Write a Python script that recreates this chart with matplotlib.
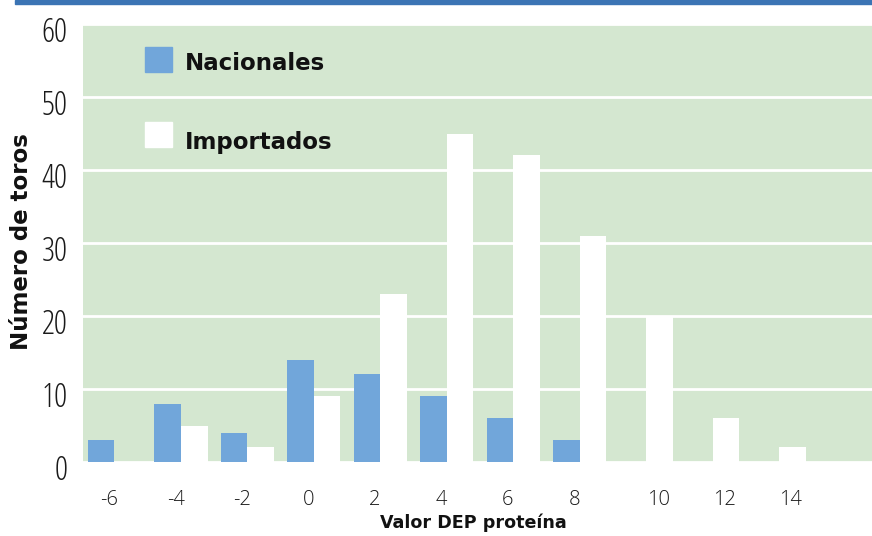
import matplotlib
matplotlib.use("Agg")
import matplotlib.pyplot as plt
import matplotlib.transforms as mtransforms
from matplotlib.patches import Rectangle
import numpy as np

# valores DEP proteína y número de toros por grupo
dep_valores = [-6, -4, -2, 0, 2, 4, 6, 8, 10, 12, 14]
nacionales = [3, 8, 4, 14, 12, 9, 6, 3, 0, 0, 0]
importados = [0, 5, 2, 9, 23, 45, 42, 31, 20, 6, 2]
y_ticks = [0, 10, 20, 30, 40, 50, 60]
series = ["Nacionales", "Importados"]

# desplazamiento de las etiquetas del eje x respecto al centro del grupo
desplaz_etiquetas = [-0.08] * 8 + [0.18] * 3

color_nac = "#71A6DA"
color_imp = "#FFFFFF"
color_fondo = "#D4E7D0"
color_franja = "#3B74B4"

W, H = 872, 536
fig = plt.figure(figsize=(W / 100, H / 100), dpi=100)
fig.patch.set_facecolor("white")

def fx(px):
    return px / W

def fy(py):
    return 1 - py / H

# franja azul superior
fig.patches.append(Rectangle((fx(15), fy(4)), 1, 4 / H,
                             transform=fig.transFigure, color=color_franja,
                             zorder=0))

ax = fig.add_axes([fx(83), 74 / H, (W - 83) / W, (462 - 24) / H])
ax.set_facecolor(color_fondo)
for s in ax.spines.values():
    s.set_visible(False)

x = np.arange(len(dep_valores))
ancho = 0.4
ax.bar(x - ancho / 2, nacionales, width=ancho, color=color_nac, zorder=3,
       linewidth=0)
ax.bar(x + ancho / 2, importados, width=ancho, color=color_imp, zorder=3,
       linewidth=0)

ax.set_xlim(-0.474, 11.40)
ax.set_ylim(0, 60)

ax.set_yticks(y_ticks)
ax.set_yticklabels([str(v) for v in y_ticks], family="Open Sans",
                   fontstretch="condensed", fontweight=300,
                   fontsize=23.5, color="#1a1a1a")
ax.yaxis.grid(True, color="white", linewidth=2, zorder=1)
ax.tick_params(axis="y", length=0, pad=11)
desp = mtransforms.ScaledTranslation(0, -5 / 100, fig.dpi_scale_trans)
for lab in ax.get_yticklabels():
    lab.set_transform(lab.get_transform() + desp)

ax.set_xticks(x + np.array(desplaz_etiquetas))
ax.set_xticklabels([str(v) for v in dep_valores], family="Open Sans",
                   fontweight=300, fontsize=14.5, color="#1a1a1a")
ax.tick_params(axis="x", length=0, pad=20)

fig.text(fx(473), fy(523), "Valor DEP proteína", ha="center",
         va="center", fontsize=12.6, fontweight="bold", color="#111111")
fig.text(fx(22), fy(242), "Número de toros", ha="center", va="center",
         rotation=90, fontsize=16.5, fontweight="bold", color="#111111")

# leyenda dibujada a mano: cuadro de color y texto
leyenda_cuadros = [(47, 72), (122, 147)]
leyenda_base = [70, 149]
for nombre, color, (y0, y1), yb in zip(series, [color_nac, color_imp],
                                       leyenda_cuadros, leyenda_base):
    fig.patches.append(Rectangle((fx(145), fy(y1)), 27 / W, (y1 - y0) / H,
                                 transform=fig.transFigure, color=color,
                                 zorder=5))
    fig.text(fx(185), fy(yb), nombre, ha="left", va="baseline",
             fontsize=16.5, fontweight="bold", color="#111111", zorder=6)

fig.savefig("out.png", dpi=100)
